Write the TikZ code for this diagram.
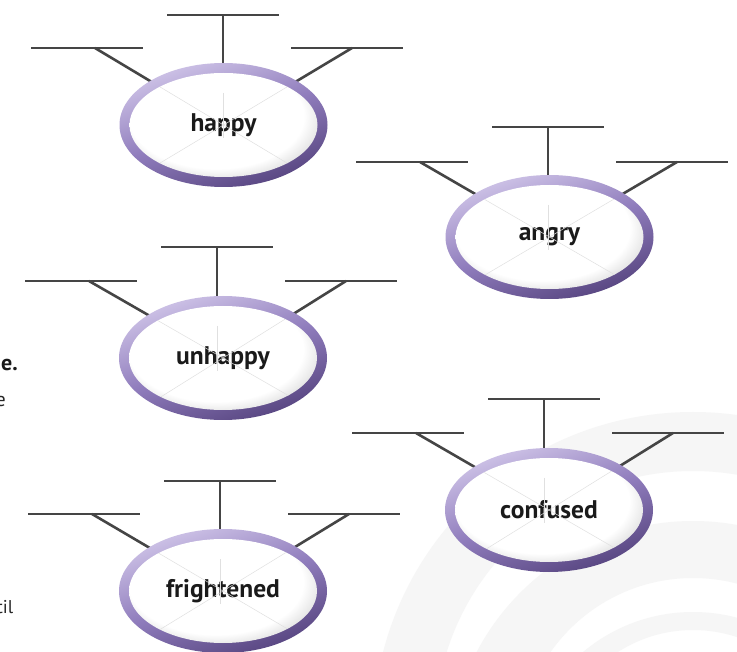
\documentclass[tikz,border=0pt]{standalone}
\usepackage{fontspec}
\setmainfont{PT Sans}
\usetikzlibrary{shapes.geometric,calc}
\definecolor{ringlight}{HTML}{CEC3E7}
\definecolor{ringmid}{HTML}{8F7CBC}
\definecolor{ringdark}{HTML}{574580}
\definecolor{linegray}{HTML}{454545}
\definecolor{bandgray}{HTML}{F6F6F6}
\definecolor{txt}{HTML}{1A1A1A}
\pgfdeclareradialshading{innerglow}{\pgfpoint{-3bp}{6bp}}{color(0bp)=(white); color(21bp)=(white); color(25bp)=(black!10); color(28bp)=(black!26); color(50bp)=(black!26)}
\pgfdeclarelayer{back}
\pgfdeclarelayer{conn}
\pgfsetlayers{back,conn,main}
\tikzset{
  emo/.style={ellipse, inner sep=0pt, minimum width=208pt, minimum height=124pt,
    top color=ringlight, bottom color=ringdark, middle color=ringmid, shading angle=20,
    font=\bfseries\fontsize{25.5}{30}\selectfont, text=txt,
    path picture={\shade[shading=innerglow, shading angle=0] (path picture bounding box.center) ellipse [x radius=94pt, y radius=52pt];}},
  conn/.style={draw=linegray, line width=2.6pt},
  faint/.style={draw=black!12, line width=0.5pt},
  band/.style={fill=bandgray, even odd rule},
  cuttext/.style={anchor=base east, inner sep=0pt, text=txt}
}
\newcommand\emotionnode[7]{%
  \node[emo] (#1) at (#2,#3) {#7};
  \coordinate (#1-t1) at (#4-56,#5);
  \coordinate (#1-t2) at (#4+56,#5);
  \coordinate (#1-tm) at (#4,#5);
  \coordinate (#1-l1) at (#4-192,#6);
  \coordinate (#1-l2) at (#4-80,#6);
  \coordinate (#1-lj) at (#4-128,#6);
  \coordinate (#1-r1) at (#4+68,#6);
  \coordinate (#1-r2) at (#4+180,#6);
  \coordinate (#1-rj) at (#4+129,#6);
  \begin{pgfonlayer}{conn}
    \draw[conn] (#1-t1) -- (#1-t2);
    \draw[conn] (#1-tm) -- (#1-tm |- #1.center);
    \draw[conn] (#1-l1) -- (#1-l2);
    \draw[conn] (#1-lj) -- (#1.center);
    \draw[conn] (#1-r1) -- (#1-r2);
    \draw[conn] (#1-rj) -- (#1.center);
  \end{pgfonlayer}
  \begin{scope}
    \clip (#1.center) ellipse [x radius=94pt, y radius=52pt];
    \draw[faint] (#1-lj) -- ($(#1.center)!-1!(#1-lj)$);
    \draw[faint] (#1-rj) -- ($(#1.center)!-1!(#1-rj)$);
    \draw[faint] ($(#1-tm |- #1.center)+(0,-32)$) -- ($(#1-tm |- #1.center)+(0,13)$);
  \end{scope}
}
\begin{document}
\begin{tikzpicture}[x=1pt,y=-1pt]
\useasboundingbox (0,0) rectangle (737,652);
\begin{pgfonlayer}{back}
  \fill[white] (0,0) rectangle (737,652);
  \begin{scope}
    \clip (0,0) rectangle (737,652);
    \fill[band] (693,732) circle [radius=320pt] (693,729) circle [radius=258pt];
    \fill[band] (693,765) circle [radius=244pt] (693,752) circle [radius=174pt];
    \fill[band] (693,783) circle [radius=171pt] (693,769) circle [radius=139pt];
  \end{scope}
\end{pgfonlayer}

\emotionnode{happy}{223.5}{125}{223}{15}{48}{happy}
\emotionnode{angry}{549.5}{237}{548}{127}{162}{angry}
\emotionnode{unhappy}{223}{358}{217}{247}{281}{unhappy}
\emotionnode{frightened}{223}{591}{220}{481}{514}{frightened}
\emotionnode{confused}{549}{510}{544}{399}{433}{confused}

\node[cuttext, font=\bfseries\fontsize{22}{26}\selectfont] (cut1) at (18,371) {e.};
\node[cuttext, font=\fontsize{20}{24}\selectfont, text=black!85] (cut2) at (6,407) {e};
\node[cuttext, font=\fontsize{18.5}{22}\selectfont, text=black!85] (cut3) at (13.5,613) {til};
\end{tikzpicture}
\end{document}
